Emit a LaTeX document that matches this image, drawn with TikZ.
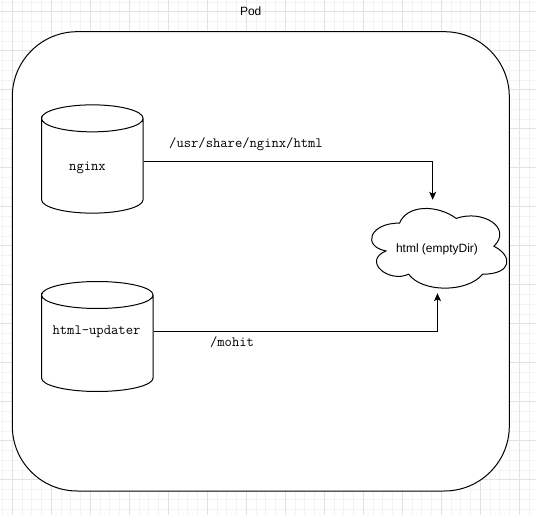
\documentclass[tikz,border=0pt]{standalone}
\usepackage{fontspec}
\setmainfont{Liberation Sans}
\usetikzlibrary{arrows.meta}
\definecolor{gridmajor}{HTML}{E2E2E2}
\definecolor{gridminor}{HTML}{F3F3F3}
\tikzset{
  minorline/.style={draw=gridminor, line width=0.7pt},
  majorline/.style={draw=gridmajor, line width=0.8pt},
  podbox/.style={draw=black, fill=white, line width=1pt, rounded corners=65pt, inner sep=0pt},
  hidden/.style={draw=none, inner sep=0pt},
  shapeline/.style={draw=black, fill=white, line width=1pt},
  monolbl/.style={font=\ttfamily\fontsize{14.2}{16}\selectfont, inner sep=0pt, anchor=base},
  sanslbl/.style={font=\fontsize{12}{14}\selectfont, inner sep=0pt, anchor=base},
  conn/.style={draw=black, line width=1pt, -{Stealth[length=8pt,width=7pt,inset=2pt]}},
}
\begin{document}
\begin{tikzpicture}[x=1pt,y=1pt]
\useasboundingbox (0,0) rectangle (536,515);
\clip (0,0) rectangle (536,515);
\fill[white] (0,0) rectangle (536,515);
% background grid
\foreach \i in {-2,...,56} {
  \draw[minorline] ({12.3+9.75*\i},0) -- ++(0,515);
  \draw[minorline] (0,{503.3-9.75*\i}) -- ++(536,0);
}
\foreach \i in {-1,...,14} {
  \draw[majorline] ({12.3+39*\i},0) -- ++(0,515);
  \draw[majorline] (0,{503.3-39*\i}) -- ++(536,0);
}
% pod
\node[podbox, minimum width=497pt, minimum height=459.3pt] (pod) at (260.8,253.65) {};
\node[sanslbl] (podlbl) at (250.7,499) {Pod};
% nginx cylinder
\node[hidden, minimum width=101.6pt, minimum height=108.3pt] (nginx) at (92.5,355.8) {};
\draw[shapeline] (nginx.north west) ++(0,-13.5)
  arc[start angle=180, end angle=-180, x radius=50.8, y radius=13.5]
  -- ++(0,-81.3)
  arc[start angle=180, end angle=360, x radius=50.8, y radius=13.5]
  -- ++(0,81.3);
\node[monolbl] (nginxlbl) at (87.5,344.3) {nginx};
% html-updater cylinder
\node[hidden, minimum width=111.6pt, minimum height=110pt] (updater) at (97.5,178.3) {};
\draw[shapeline] (updater.north west) ++(0,-13.5)
  arc[start angle=180, end angle=-180, x radius=55.8, y radius=13.5]
  -- ++(0,-83)
  arc[start angle=180, end angle=360, x radius=55.8, y radius=13.5]
  -- ++(0,83);
\node[monolbl] (updaterlbl) at (96.5,180.5) {html-updater};
% cloud volume
\node[hidden, minimum width=151pt, minimum height=93pt] (vol) at (437.5,268.5) {};
\begin{scope}[shift={(vol.north west)}, xscale=151, yscale=-93]
\draw[shapeline] (0.25,0.25)
  .. controls (0.05,0.25) and (0,0.5) .. (0.16,0.55)
  .. controls (0,0.66) and (0.18,0.9) .. (0.31,0.8)
  .. controls (0.4,1) and (0.7,1) .. (0.8,0.8)
  .. controls (1,0.8) and (1,0.6) .. (0.875,0.5)
  .. controls (1,0.3) and (0.8,0.1) .. (0.625,0.2)
  .. controls (0.5,0.05) and (0.3,0.05) .. (0.25,0.25) -- cycle;
\end{scope}
\node[sanslbl] (vollbl) at (437,262.3) {html (emptyDir)};
% connectors
\draw[conn] ([yshift=-2.1pt]nginx.east) -| ([xshift=-4.8pt]vol.north);
\draw[conn] ([yshift=5.4pt]updater.east) -| (vol.south);
\node[monolbl] (path1) at (246,367) {/usr/share/nginx/html};
\node[monolbl] (path2) at (232,168.5) {/mohit};
\end{tikzpicture}
\end{document}
